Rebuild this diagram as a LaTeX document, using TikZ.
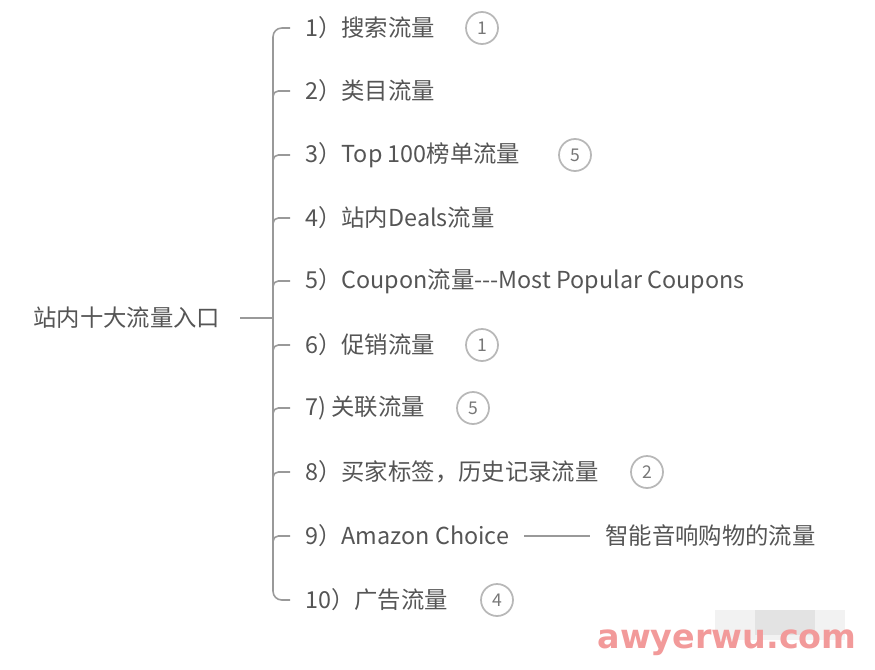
\documentclass[tikz,border=0pt]{standalone}
\usepackage{fontspec}
\setmainfont{Noto Sans CJK SC}
\newfontfamily\wmfont{DejaVu Sans}
\usetikzlibrary{positioning}
\definecolor{txt}{HTML}{555555}
\definecolor{lnk}{HTML}{999999}
\definecolor{wm}{HTML}{F29A9A}

\tikzset{
  root/.style={anchor=east, inner xsep=11pt, inner ysep=2pt, text=txt},
  item/.style={anchor=west, inner xsep=8.5pt, inner ysep=2pt, text=txt},
  link/.style={draw=lnk, line width=0.9pt},
  badge/.style={circle, draw=lnk!70, line width=1pt, minimum size=0.64cm, inner sep=0pt,
    text=txt!80, font=\fontsize{10pt}{12pt}\selectfont},
}

\begin{document}
\begin{tikzpicture}[x=0.02cm,y=-0.02cm,font=\fontsize{13.3pt}{16pt}\selectfont]
    \useasboundingbox (0,0) rectangle (875,669);
    % root and branches
    \node[root] (root) at (240,318) {站内十大流量入口};
    \node[item] (i1) at (290,28) {1）搜索流量};
    \node[item] (i2) at (290,91) {2）类目流量};
    \node[item] (i3) at (290,155) {3）Top 100榜单流量};
    \node[item] (i4) at (290,218) {4）站内Deals流量};
    \node[item] (i5) at (290,281) {5）Coupon流量-{}-{}-Most Popular Coupons};
    \node[item] (i6) at (290,345) {6）促销流量};
    \node[item] (i7) at (290,408) {7) 关联流量};
    \node[item] (i8) at (290,472) {8）买家标签，历史记录流量};
    \node[item] (i9) at (290,536) {9）Amazon Choice};
    \node[item] (i10) at (290,600) {10）广告流量};
    \node[item] (i9b) at (590,536) {智能音响购物的流量};
    % markers
    \node[badge] (b1) at (482,28) {1};
    \node[badge] (b3) at (575,155) {5};
    \node[badge] (b6) at (482,345) {1};
    \node[badge] (b7) at (473,408) {5};
    \node[badge] (b8) at (647,472) {2};
    \node[badge] (b10) at (497,600) {4};
    \coordinate (hub) at (273,318);
    \draw[link] (root.east) -- (hub);
    \draw[link, rounded corners=5pt] (i1.west) -| (hub) |- (i10.west);
    \foreach \n in {2,...,9}
      \draw[link, rounded corners=3pt] ([yshift=-6pt]hub|-i\n.west) |- (i\n.west);
    \draw[link] (i9.east) -- (i9b.west);
    % watermark
    \fill[black!5] (715,610) rectangle (845,640);
    \fill[black!11] (755,610) rectangle (815,635);
    \node[anchor=base, text=wm, font=\wmfont\bfseries\fontsize{19pt}{21pt}\selectfont] (mark) at (727,648) {awyerwu.com};
\end{tikzpicture}
\end{document}
